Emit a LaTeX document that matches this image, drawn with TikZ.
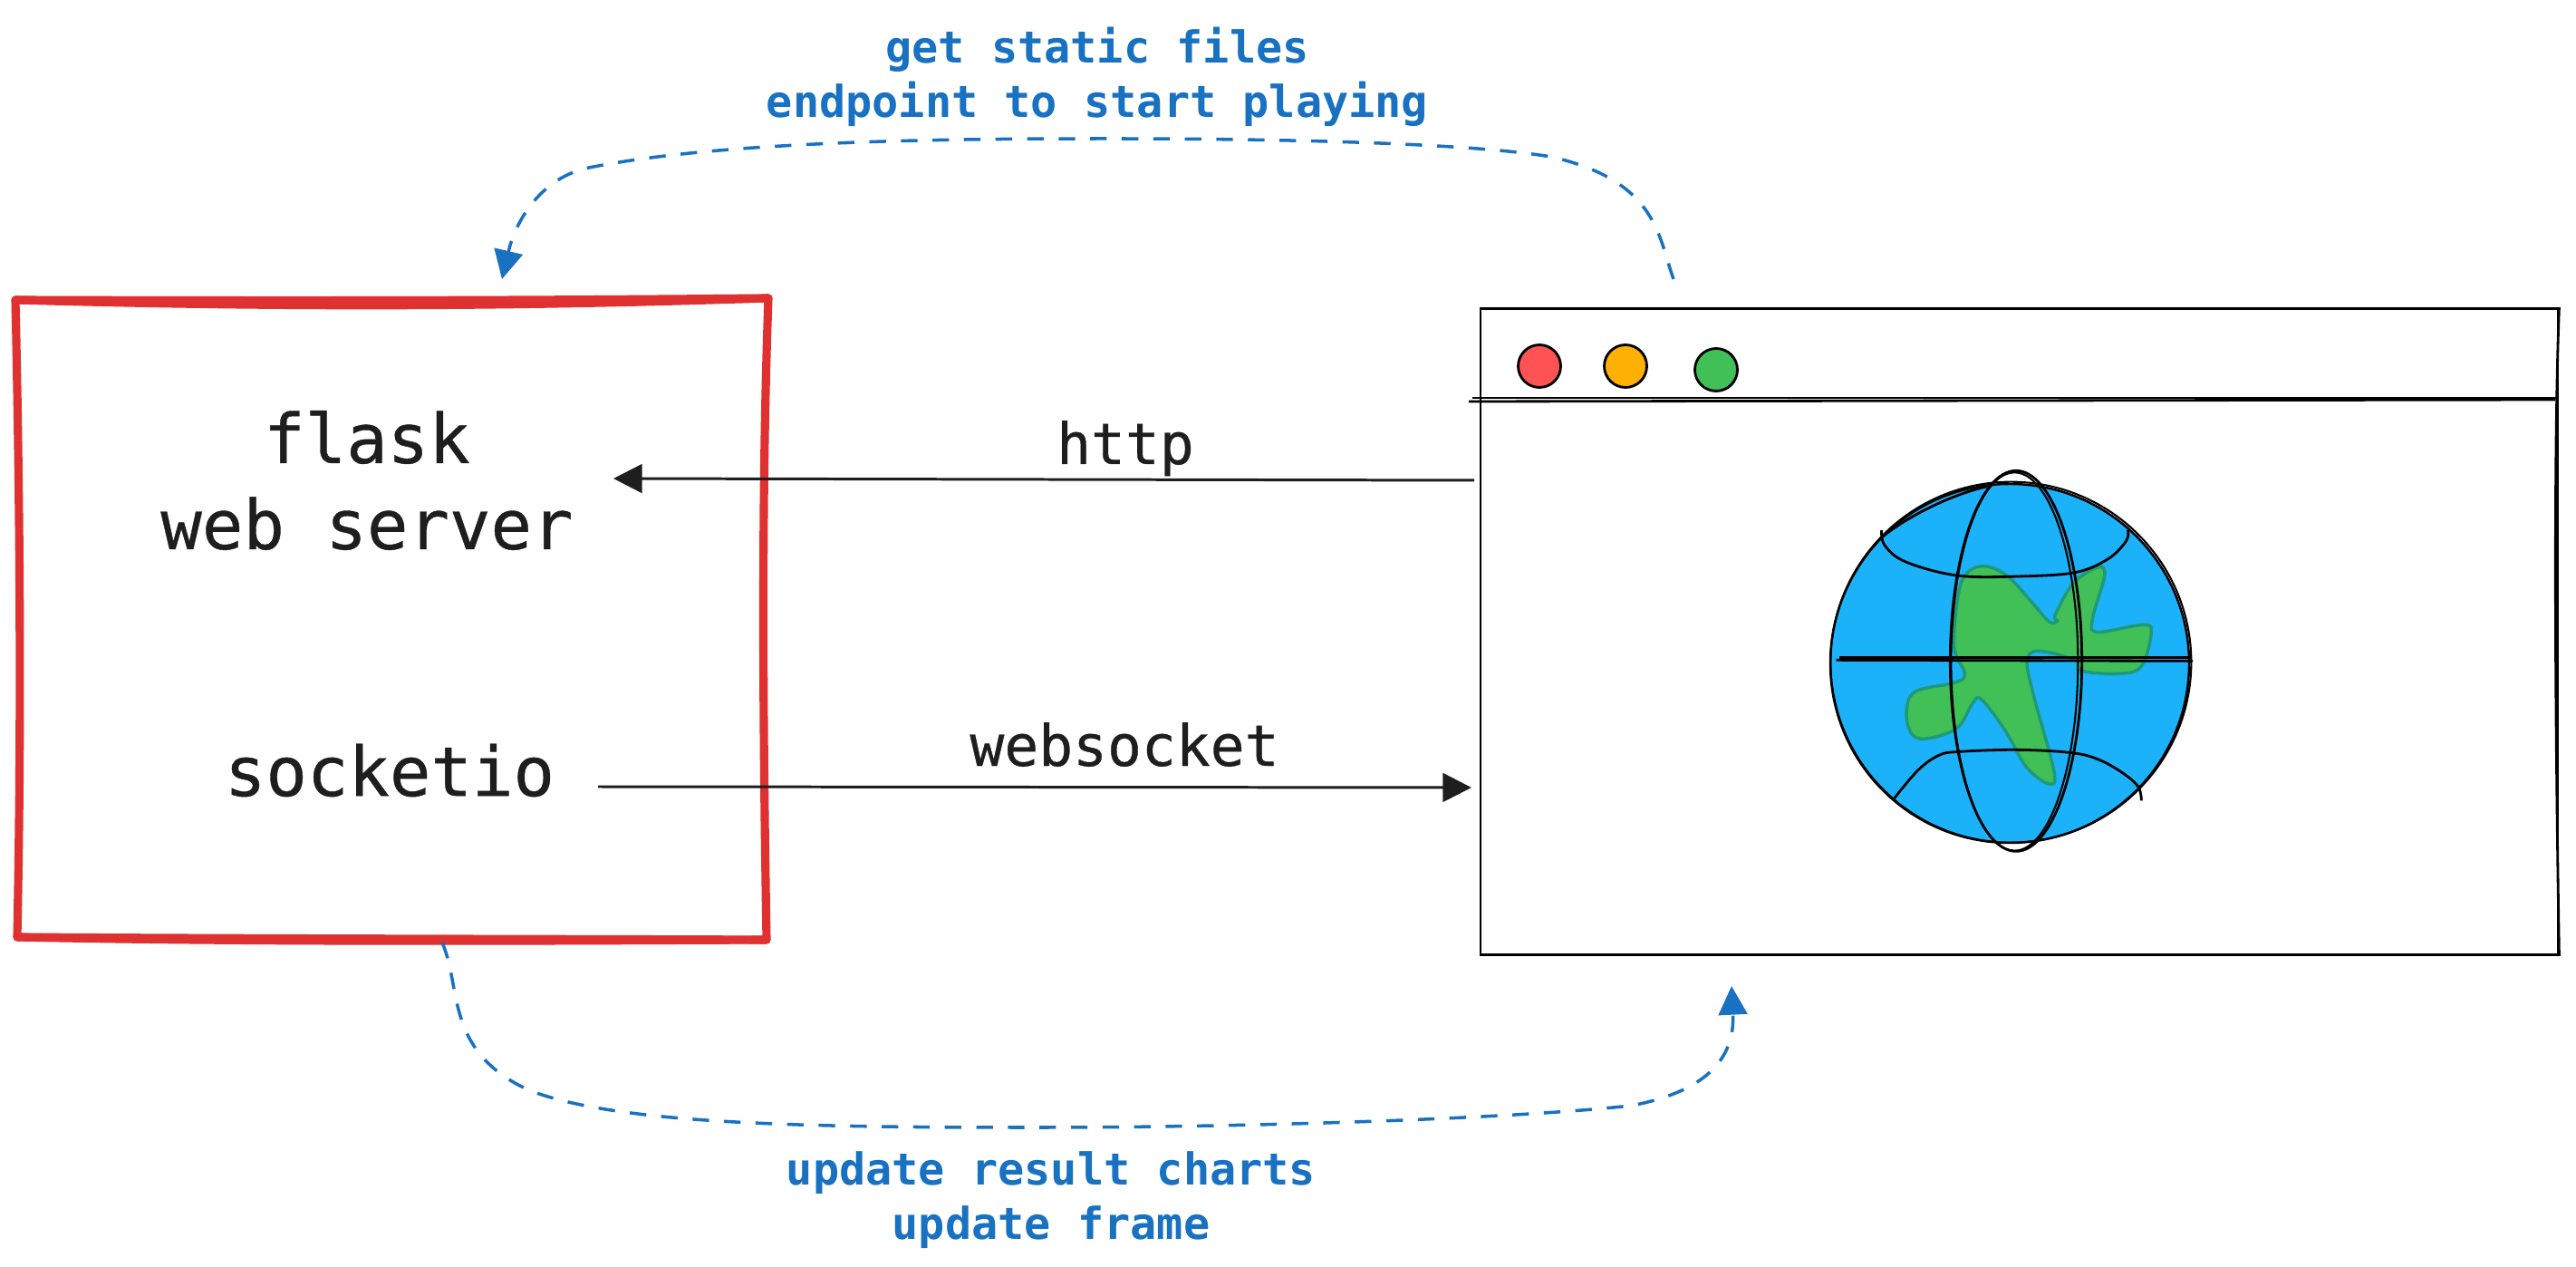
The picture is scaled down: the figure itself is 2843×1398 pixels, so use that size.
\documentclass[tikz,border=0pt]{standalone}
\usepackage{fontspec}
\setmonofont{DejaVu Sans Mono}
\newfontfamily\inkmono[FakeBold=0.5]{DejaVu Sans Mono}
\usetikzlibrary{arrows.meta,shapes,positioning}
\definecolor{inkblack}{HTML}{1E1E1E}
\definecolor{inkred}{HTML}{E03131}
\definecolor{inkblue}{HTML}{1971C2}
\definecolor{skyfill}{HTML}{1CB2FA}
\definecolor{landfill}{HTML}{40C057}
\definecolor{landedge}{HTML}{1F9A78}
\definecolor{dotred}{HTML}{FF5252}
\definecolor{dotyellow}{HTML}{FFB005}
\tikzset{
  bigtext/.style={font=\inkmono\fontsize{21.5}{27}\selectfont, text=inkblack, inner sep=0pt, align=center},
  midtext/.style={font=\inkmono\fontsize{17.9}{22}\selectfont, text=inkblack, inner sep=0pt},
  bluetext/.style={font=\ttfamily\bfseries\fontsize{13.8}{17}\selectfont, text=inkblue, inner sep=0pt, align=center},
  redbox/.style={draw=inkred, line width=2.6pt, line cap=round, line join=round},
  thinline/.style={draw=black, line width=0.8pt},
  dot/.style={circle, draw=black, line width=0.8pt, minimum size=47*0.01cm, inner sep=0pt},
  blackarrow/.style={draw=inkblack, line width=0.85pt, -{Triangle[length=9pt,width=9pt]}},
  bluearrow/.style={draw=inkblue, line width=1pt, dash pattern=on 5.2pt off 4.7pt, -{Triangle[length=9pt,width=9pt]}}
}
\begin{document}
\begin{tikzpicture}[x=0.01cm,y=-0.01cm]
\useasboundingbox (0,0) rectangle (2843,1398);
% server
\coordinate (srvnw) at (17,331);
\coordinate (srvne) at (848,329);
\coordinate (srvse) at (846,1037);
\coordinate (srvsw) at (19,1034);
\draw[redbox] (srvnw) .. controls (300,332) and (550,332) .. (srvne)
  .. controls (840,550) and (842,800) .. (srvse)
  .. controls (600,1036) and (300,1036) .. (srvsw)
  .. controls (24,800) and (22,550) .. (srvnw);
\draw[redbox] (srvnw) .. controls (300,339) and (550,339) .. (srvne);
\draw[redbox] (srvsw) .. controls (300,1040) and (600,1038) .. (srvse);
\node[bigtext] (flask) at (405,530) {flask\\web server};
\node[bigtext] (socketio) at (430,850) {socketio};
% browser
\node[thinline, draw, rectangle, minimum width=1189*0.01cm, minimum height=713*0.01cm, inner sep=0pt] (browser) at (2228.5,697) {};
\coordinate (barleft) at (1625,439);
\coordinate (barright) at (2822,439);
\coordinate (barleftb) at (1621,443);
\coordinate (barrightb) at (2820,441);
\draw[thinline] (barleft) -- (barright);
\draw[thinline] (barleftb) -- (barrightb);
\draw[thinline] (browser.north east) .. controls (2818,500) and (2820,800) .. (browser.south east);
\node[dot, fill=dotred] (reddot) at (1699,404) {};
\node[dot, fill=dotyellow] (yellowdot) at (1794,404) {};
\node[dot, fill=landfill] (greendot) at (1894,408) {};
% globe
\node[circle, fill=skyfill, draw=black, line width=0.7pt, minimum size=396*0.01cm, inner sep=0pt] (globe) at (2218,732) {};
\begin{scope}[shift={(1950,480)},scale=1/3]
\draw[fill=landfill, draw=landedge, line width=1pt] plot[smooth cycle, tension=0.6] coordinates {
  (730,435) (800,470) (870,545) (935,618) (962,614) (955,595) (1015,490) (1095,438) (1118,465)
  (1078,610) (1095,652) (1250,628) (1272,660) (1240,765) (1170,790) (1040,780) (1020,745)
  (900,715) (862,745) (880,850) (950,1110) (935,1155) (860,1100) (790,980) (710,875) (680,890)
  (630,970) (530,1005) (480,990) (462,920) (490,850) (620,820) (655,790) (620,700) (635,520) (670,450)};
\draw[thinline, line width=0.6pt] (808,752) circle (597);
\draw[thinline] (825,748) ellipse (218 and 630);
\draw[thinline, line width=0.6pt] (820,750) ellipse (210 and 626);
\draw[thinline] (230,745) -- (1410,748);
\draw[thinline] (240,737) -- (1405,737);
\draw[thinline] plot[smooth, tension=0.6] coordinates {(380,315) (390,365) (460,420) (630,465) (830,468) (1020,455) (1130,410) (1190,350) (1195,315)};
\draw[thinline] plot[smooth, tension=0.6] coordinates {(420,1205) (500,1110) (570,1060) (640,1048) (830,1042) (1010,1052) (1100,1075) (1180,1120) (1230,1165) (1240,1210)};
\draw[thinline] (385,335) .. controls (480,260) and (620,195) .. (730,170);
\end{scope}
% connectors
\coordinate (httpfrom) at (1627,530);
\coordinate (httpto) at (677,528);
\coordinate (wsfrom) at (660,868);
\coordinate (wsto) at (1624,869);
\coordinate (playfrom) at (1847,308);
\coordinate (playto) at (554,308);
\coordinate (chartfrom) at (488,1040);
\coordinate (chartto) at (1911,1088);
\draw[blackarrow] (httpfrom) -- (httpto);
\draw[blackarrow] (wsfrom) -- (wsto);
\draw[bluearrow] (playfrom) .. controls (1830,262) and (1830,200) .. (1712,173)
  .. controls (1620,158) and (1420,153) .. (1221,153)
  .. controls (1050,153) and (800,155) .. (650,185)
  .. controls (600,195) and (570,240) .. (playto);
\draw[bluearrow] (chartfrom) .. controls (510,1090) and (490,1160) .. (584,1203)
  .. controls (680,1240) and (880,1244) .. (1142,1244)
  .. controls (1350,1244) and (1650,1236) .. (1800,1220)
  .. controls (1880,1205) and (1915,1170) .. (chartto);
% labels
\node[midtext, anchor=base] (http) at (1242,512) {http};
\node[midtext, anchor=base] (websocket) at (1241,845) {websocket};
\node[bluetext] (playlabel) at (1211,85) {get static files\\endpoint to start playing};
\node[bluetext] (chartlabel) at (1160,1324) {update result charts\\update frame};
\end{tikzpicture}
\end{document}
